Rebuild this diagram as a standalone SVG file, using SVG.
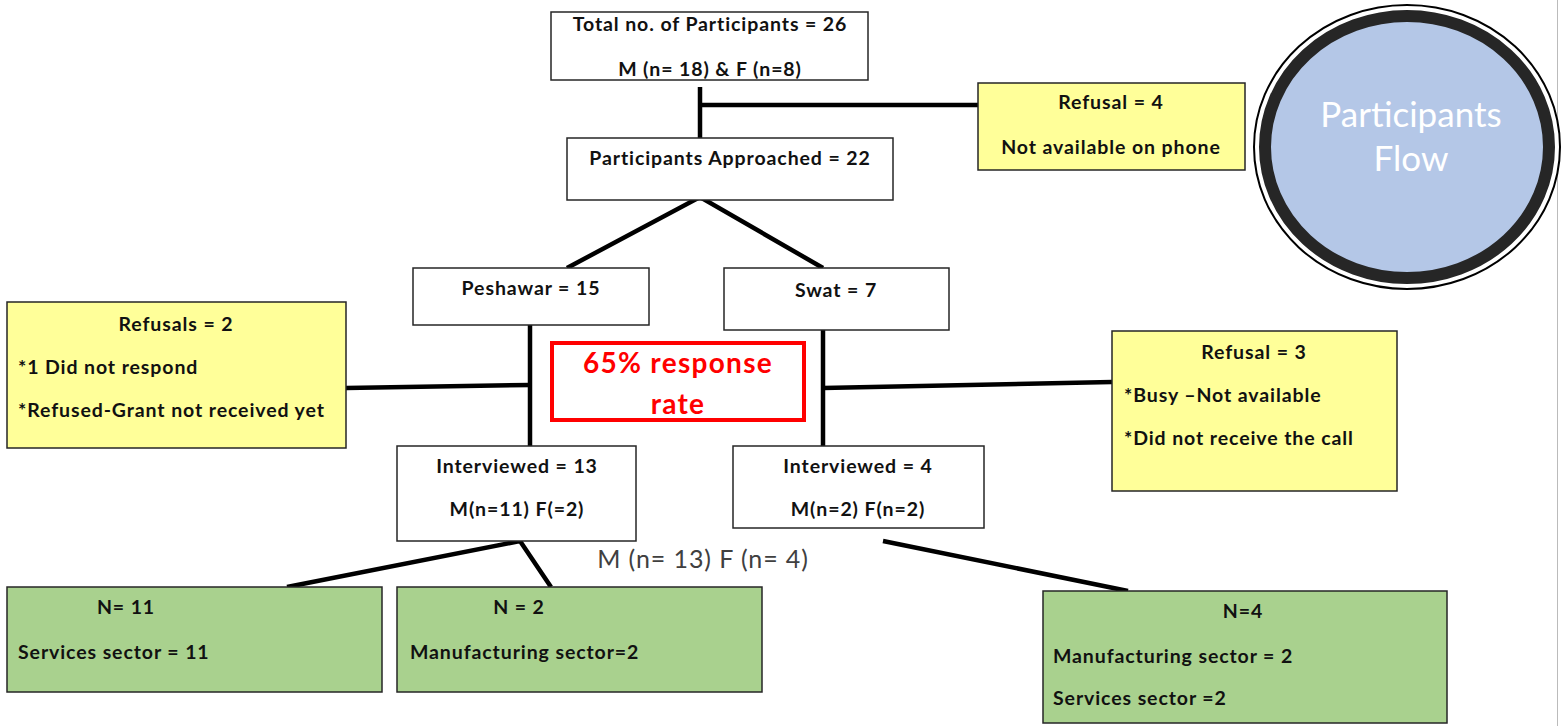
<svg xmlns="http://www.w3.org/2000/svg" width="1561" height="726" viewBox="0 0 1561 726">
<style>
.box{fill:#fff;stroke:#262626;stroke-width:1.5}
.yel{fill:#FFFF99;stroke:#262626;stroke-width:1.5}
.grn{fill:#A9D18E;stroke:#262626;stroke-width:1.5}
.t{font-family:Lato,"Open Sans",sans-serif;font-weight:bold;font-size:19.5px;letter-spacing:0.9px;fill:#111}
.c{text-anchor:middle}
.ln{stroke:#000;stroke-width:4.5;fill:none}
.red{font-family:Lato,"Open Sans",sans-serif;font-weight:bold;font-size:28px;letter-spacing:1.3px;fill:#FF0000;text-anchor:middle}
</style>
<rect x="0" y="0" width="1561" height="726" fill="#fff"/>
<line x1="1557.5" y1="0" x2="1557.5" y2="726" stroke="#bbb" stroke-width="1"/>
<g id="connectors">
<line class="ln" x1="700" y1="87" x2="700" y2="138"/>
<line class="ln" x1="700" y1="105" x2="978" y2="105"/>
<polyline class="ln" points="567,268 700,197 823,268"/>
<line class="ln" x1="530" y1="325" x2="530" y2="446"/>
<line class="ln" x1="823" y1="330" x2="823" y2="446"/>
<line class="ln" x1="346" y1="388" x2="530" y2="385"/>
<line class="ln" x1="823" y1="388" x2="1112" y2="382"/>
<polyline class="ln" points="287,587 520,541 551,587"/>
<line class="ln" x1="883" y1="541" x2="1128" y2="591"/>
</g>
<g id="title">
<ellipse cx="1407" cy="147" rx="153" ry="142" fill="#fff" stroke="#000" stroke-width="2"/>
<ellipse cx="1407" cy="147" rx="142" ry="131" fill="#B4C7E7" stroke="#262626" stroke-width="12"/>
<text x="1411" y="127" text-anchor="middle" font-family="Lato,'Open Sans',sans-serif" font-size="35" fill="#fff">Participants</text>
<text x="1411" y="171" text-anchor="middle" font-family="Lato,'Open Sans',sans-serif" font-size="35" fill="#fff">Flow</text>
</g>
<g id="total">
<rect class="box" x="551" y="12" width="317" height="68"/>
<text class="t c" x="710" y="31">Total no. of Participants = 26</text>
<text class="t c" x="710" y="76">M (n= 18) &amp; F (n=8)</text>
</g>
<g id="approached">
<rect class="box" x="567" y="138" width="326" height="62"/>
<text class="t c" x="730" y="165">Participants Approached = 22</text>
</g>
<g id="refusal4">
<rect class="yel" x="978" y="83" width="267" height="87"/>
<text class="t c" x="1111" y="109">Refusal = 4</text>
<text class="t c" x="1111" y="154">Not available on phone</text>
</g>
<g id="peshawar">
<rect class="box" x="413" y="268" width="236" height="57"/>
<text class="t c" x="531" y="295">Peshawar = 15</text>
</g>
<g id="swat">
<rect class="box" x="724" y="268" width="225" height="62"/>
<text class="t c" x="836" y="297">Swat = 7</text>
</g>
<g id="refusals2">
<rect class="yel" x="7" y="302" width="339" height="146"/>
<text class="t c" x="176" y="331">Refusals = 2</text>
<text class="t" x="18" y="374">*1 Did not respond</text>
<text class="t" x="18" y="417">*Refused-Grant not received yet</text>
</g>
<g id="response">
<rect x="552" y="343" width="252" height="77" fill="#fff" stroke="#FF0000" stroke-width="4"/>
<text class="red" x="678" y="373">65% response</text>
<text class="red" x="678" y="414">rate</text>
</g>
<g id="refusal3">
<rect class="yel" x="1112" y="331" width="285" height="160"/>
<text class="t c" x="1254" y="359">Refusal = 3</text>
<text class="t" x="1124" y="402">*Busy –Not available</text>
<text class="t" x="1124" y="445">*Did not receive the call</text>
</g>
<g id="interviewed13">
<rect class="box" x="397" y="446" width="239" height="95"/>
<text class="t c" x="517" y="473">Interviewed = 13</text>
<text class="t c" x="517" y="516">M(n=11) F(=2)</text>
</g>
<g id="interviewed4">
<rect class="box" x="733" y="446" width="251" height="82"/>
<text class="t c" x="858" y="473">Interviewed = 4</text>
<text class="t c" x="858" y="516">M(n=2) F(n=2)</text>
</g>
<text x="703" y="568" text-anchor="middle" font-family="Lato,'Open Sans',sans-serif" font-size="25" letter-spacing="0.9" fill="#404040">M (n= 13) F (n= 4)</text>
<g id="n11">
<rect class="grn" x="7" y="587" width="375" height="105"/>
<text class="t c" x="126" y="614">N= 11</text>
<text class="t" x="18" y="659">Services sector = 11</text>
</g>
<g id="n2">
<rect class="grn" x="397" y="587" width="365" height="105"/>
<text class="t c" x="519" y="614">N = 2</text>
<text class="t" x="410" y="659">Manufacturing sector=2</text>
</g>
<g id="n4">
<rect class="grn" x="1043" y="591" width="404" height="132"/>
<text class="t c" x="1243" y="618">N=4</text>
<text class="t" x="1053" y="663">Manufacturing sector = 2</text>
<text class="t" x="1053" y="705">Services sector =2</text>
</g>
</svg>
